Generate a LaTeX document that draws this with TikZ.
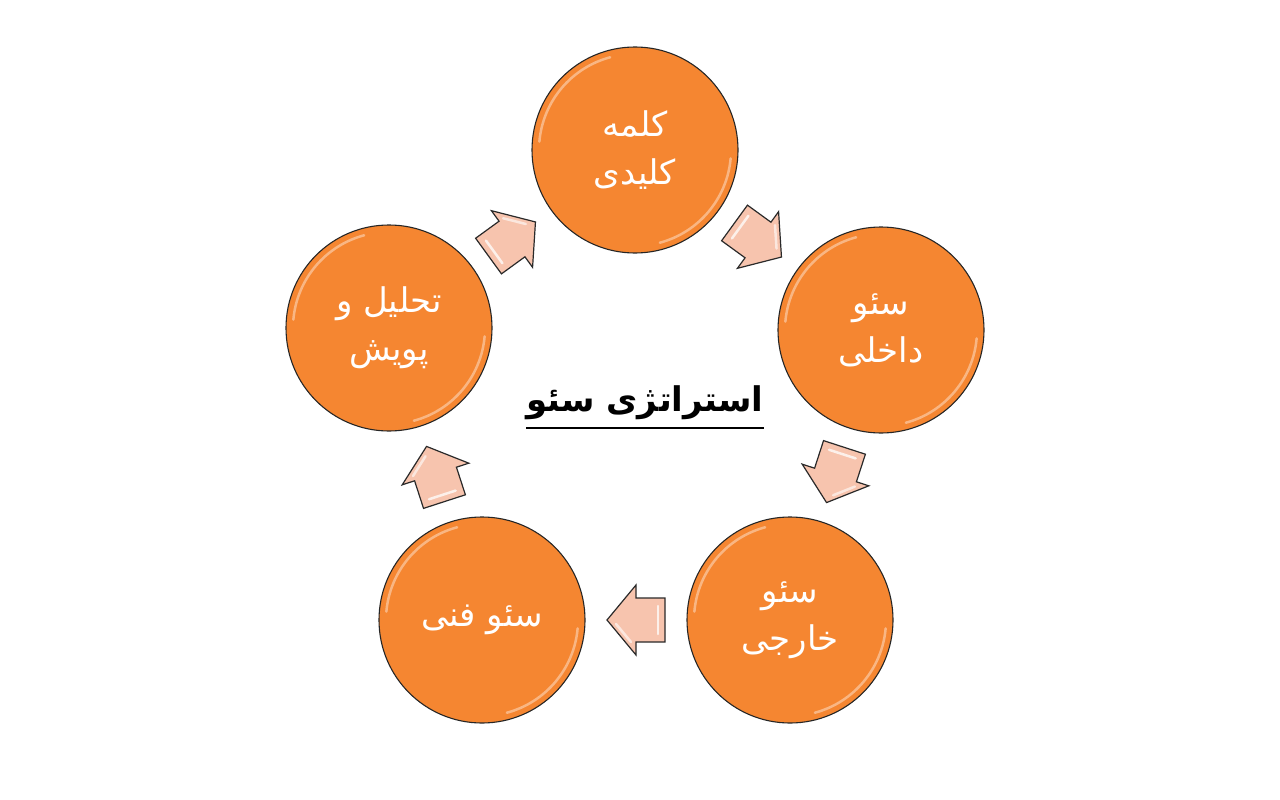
\documentclass[tikz,border=0pt]{standalone}
\usepackage{fontspec}
\newfontfamily\arabicfont[Script=Arabic]{DejaVu Sans}
\TeXXeTstate=1
\usetikzlibrary{calc}
\definecolor{orangefill}{HTML}{F58631}
\definecolor{arrowfill}{HTML}{F7C4AE}
\definecolor{arrowline}{HTML}{2A2A2A}
\tikzset{
  stage/.style={circle, minimum size=206pt, inner sep=0pt, fill=orangefill,
    draw=black!85, line width=1.1pt, text=white,
    font=\arabicfont\fontsize{34}{48}\selectfont, align=center},
  gloss/.style={white, opacity=0.4, line width=2.5pt, line cap=round},
  cyclearrow/.pic={
    \draw[fill=arrowfill, draw=arrowline, line width=1.2pt, line join=miter]
      (29,0) -- (0,35) -- (0,22) -- (-29,22) -- (-29,-22) -- (0,-22) -- (0,-35) -- cycle;
    \draw[white, opacity=0.75, line width=2.5pt, line cap=round] (-22,-14) -- (-22,14);
    \draw[white, opacity=0.6, line width=2.5pt, line cap=round] (20,-4) -- (5,-22);
  }
}
\begin{document}
\begin{tikzpicture}[x=1pt,y=-1pt]
\fill[white] (0,0) rectangle (1280,800);
\useasboundingbox (0,0) rectangle (1280,800);

\node[stage] (c1) at (635,150) {\beginR کلمه\endR\\\beginR کلیدی\endR};
\node[stage] (c2) at (881,330) {\beginR سئو\endR\\\beginR داخلی\endR};
\node[stage] (c3) at (790,620) {\beginR سئو\endR\\\beginR خارجی\endR};
\node[stage] (c4) at (482,620) {\beginR سئو فنی\endR};
\node[stage] (c5) at (389,328) {\beginR تحلیل و\endR\\\beginR پویش\endR};

\foreach \c in {c1,c2,c3,c4,c5}{
  \draw[gloss] ($(\c)+(185:96)$) arc (185:255:96);
  \draw[gloss] ($(\c)+(5:96)$) arc (5:75:96);
}

\pic[rotate=-36] at ($(c1)!0.5!(c2)$) {cyclearrow};
\pic[rotate=-108] at ($(c2)!0.5!(c3)$) {cyclearrow};
\pic[rotate=180] at ($(c3)!0.5!(c4)$) {cyclearrow};
\pic[rotate=108] at ($(c4)!0.5!(c5)$) {cyclearrow};
\pic[rotate=36] at ($(c5)!0.5!(c1)$) {cyclearrow};

\node[font=\arabicfont\bfseries\fontsize{34}{40}\selectfont, inner sep=0pt, minimum height=50pt, anchor=south] (title) at (645,428) {\beginR استراتژی سئو\endR};
\draw[line width=2pt] (title.south west) -- (title.south east);
\end{tikzpicture}
\end{document}
